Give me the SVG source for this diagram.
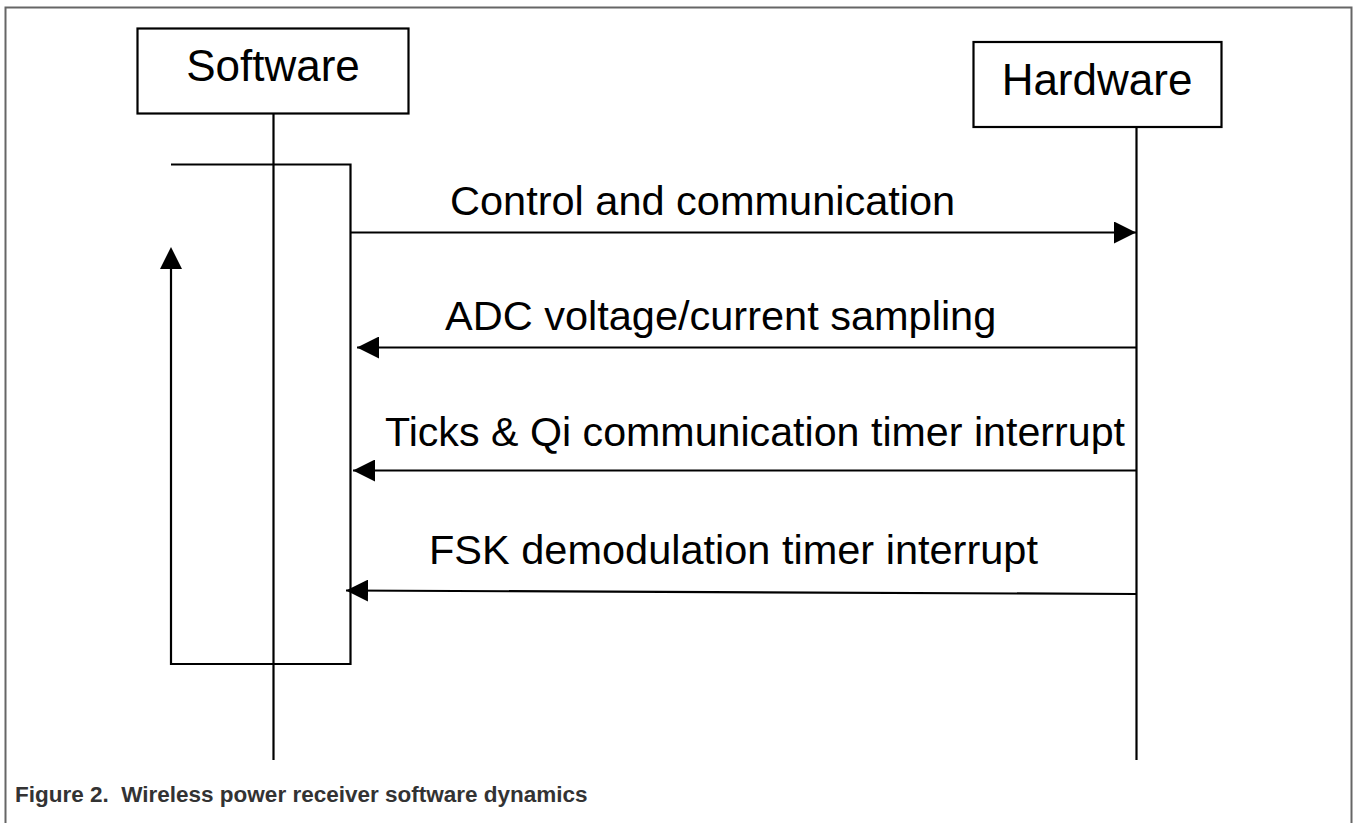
<svg xmlns="http://www.w3.org/2000/svg" width="1353" height="823" viewBox="0 0 1353 823">
<style>
.ln{stroke:#000;stroke-width:2.2;fill:none}
.box{stroke:#000;stroke-width:2.2;fill:#fff}
.t{font-family:"Liberation Sans",Arial,sans-serif;fill:#000}
.lbl{font-size:41.5px}
.nm{font-size:44px}
.cap{font-family:"Liberation Sans",Arial,sans-serif;font-size:22.5px;font-weight:bold;fill:#333}
</style>
<defs>
<marker id="ah" viewBox="0 0 22 22" refX="22" refY="11" markerWidth="22" markerHeight="22" markerUnits="userSpaceOnUse" orient="auto">
<path d="M0,0 L22,11 L0,22 Z" fill="#000"/>
</marker>
</defs>
<rect width="1353" height="823" fill="#fff"/>
<path d="M5.5,830 V7.5 H1351.5 V830" fill="none" stroke="#666" stroke-width="2"/>
<g id="software">
<rect class="box" x="137.5" y="28.5" width="271" height="85"/>
<text class="t nm" x="273" y="81" text-anchor="middle">Software</text>
</g>
<g id="hardware">
<rect class="box" x="973.5" y="42" width="248" height="85"/>
<text class="t nm" x="1097" y="95" text-anchor="middle">Hardware</text>
</g>
<g id="connectors">
<line class="ln" x1="273.5" y1="113.5" x2="273.5" y2="760"/>
<line class="ln" x1="1136.5" y1="127" x2="1136.5" y2="760"/>
<path class="ln" d="M171,164.5 H350.5 V664 H171 V258"/>
<path d="M160,269 L171,247 L182,269 Z" fill="#000"/>
<line class="ln" x1="350" y1="232.5" x2="1136" y2="232.5" marker-end="url(#ah)"/>
<line class="ln" x1="1136" y1="347.5" x2="357" y2="347.5" marker-end="url(#ah)"/>
<line class="ln" x1="1136" y1="470.5" x2="353" y2="470.5" marker-end="url(#ah)"/>
<line class="ln" x1="1136" y1="594" x2="346" y2="590.5" marker-end="url(#ah)"/>
</g>
<g id="labels">
<text class="t lbl" x="450" y="215">Control and communication</text>
<text class="t lbl" x="445" y="330">ADC voltage/current sampling</text>
<text class="t lbl" x="385" y="446" textLength="740" lengthAdjust="spacingAndGlyphs">Ticks &amp; Qi communication timer interrupt</text>
<text class="t lbl" x="429" y="564">FSK demodulation timer interrupt</text>
</g>
<text class="cap" x="15" y="802" xml:space="preserve">Figure 2.  Wireless power receiver software dynamics</text>
</svg>
